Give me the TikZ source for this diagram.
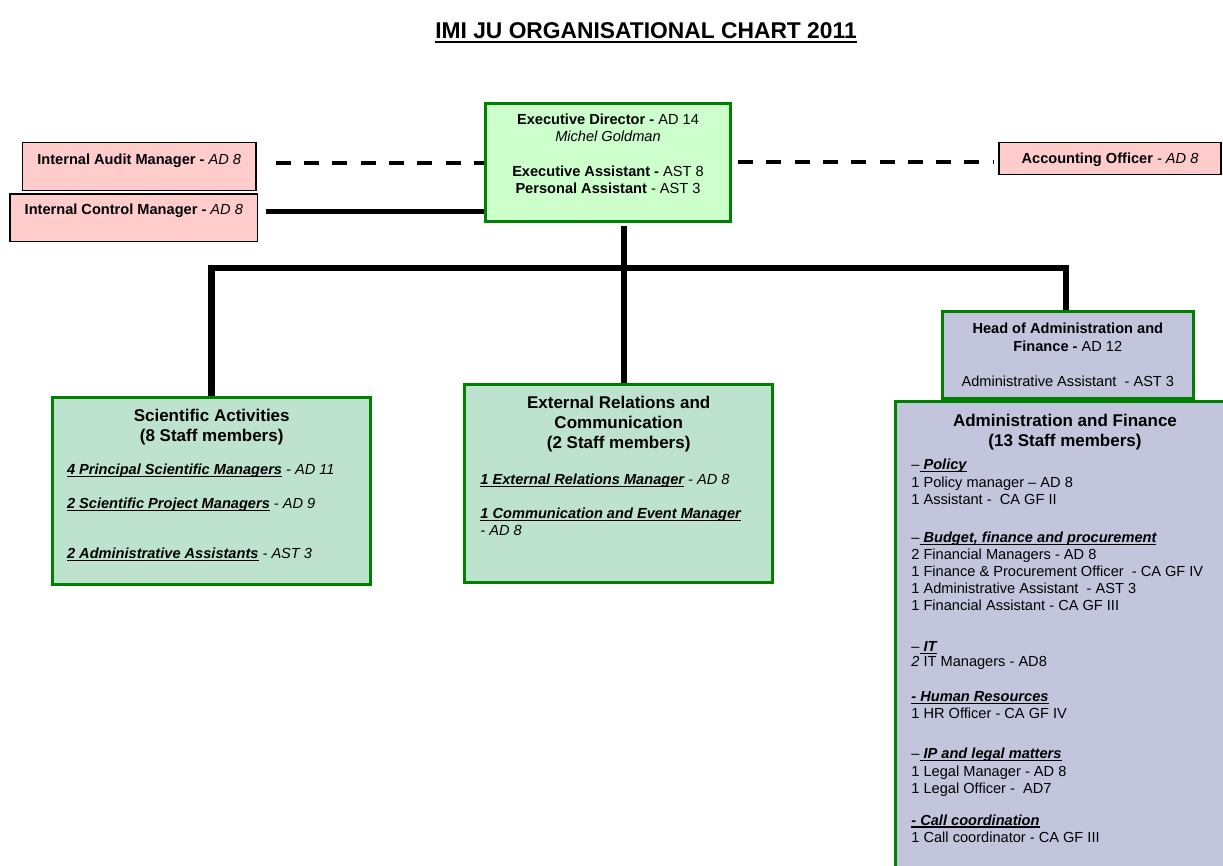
\documentclass[tikz,border=0pt]{standalone}
\usepackage{fontspec}
\setmainfont{Liberation Sans}
\usetikzlibrary{positioning}
\definecolor{auditpink}{HTML}{FFCCCC}
\definecolor{execgreen}{HTML}{CCFFCC}
\definecolor{unitmint}{HTML}{BDE3CF}
\definecolor{adminlilac}{HTML}{C3C5DD}
\definecolor{boxgreen}{HTML}{008000}
\newsavebox{\ulsave}
\newcommand{\ulrule}[3]{\sbox{\ulsave}{#1}\rlap{\rule[-#2]{\wd\ulsave}{#3}}\usebox{\ulsave}}
\newcommand{\bodyfont}{\fontsize{14.6}{17}\selectfont}
\newcommand{\headfont}{\fontsize{17}{20}\selectfont\bfseries}
\newcommand{\titlefont}{\fontsize{22.8}{26}\selectfont\bfseries}
\newcommand{\ulbi}[1]{{\bfseries\itshape\ulrule{#1}{2.1pt}{1.2pt}}}
\newcommand{\titleline}[1]{\ulrule{#1}{4.4pt}{2pt}}
\tikzset{
pinkbox/.style={draw=black, line width=1.3pt, fill=auditpink, inner sep=0pt},
greenbox/.style={draw=boxgreen, line width=3pt, inner sep=0pt},
boxtext/.style={inner sep=0pt, align=center, font=\bodyfont},
headtext/.style={inner sep=0pt, align=center, font=\headfont},
itemtext/.style={inner sep=0pt, align=left, font=\bodyfont},
dashline/.style={line width=4pt, dash pattern=on 15pt off 13.3pt},
solidline/.style={line width=5pt},
treeline/.style={line width=6.5pt}
}
\begin{document}
\begin{tikzpicture}[x=1pt,y=-1pt]
\useasboundingbox (0,0) rectangle (1223,866);
\clip (0,0) rectangle (1223,866);

\node[font=\titlefont, anchor=base, inner sep=0pt] (title) at (646,38.3) {\titleline{IMI JU ORGANISATIONAL CHART 2011}};

\node[greenbox, fill=execgreen, minimum width=245pt, minimum height=118pt] (exec) at (608,162.5) {};
\node[pinkbox, minimum width=233.7pt, minimum height=48pt] (audit) at (139.2,166.3) {};
\node[pinkbox, minimum width=247.7pt, minimum height=47.7pt] (control) at (133.8,217.8) {};
\node[pinkbox, minimum width=222pt, minimum height=32pt] (account) at (1110,158.3) {};
\node[greenbox, fill=unitmint, minimum width=318.3pt, minimum height=187.3pt] (sci) at (211.7,490.9) {};
\node[greenbox, fill=unitmint, minimum width=307.7pt, minimum height=197.7pt] (extrel) at (618.7,483.7) {};
\node[greenbox, fill=adminlilac, minimum width=251.5pt, minimum height=86pt] (head) at (1067.8,355) {};
\node[greenbox, fill=adminlilac, minimum width=338.6pt, minimum height=478.3pt] (admin) at (1065,640.9) {};

\node[boxtext, below=11.6pt of exec.north] (exectext) {\textbf{Executive Director -} AD 14\\\textit{Michel Goldman}\\[18pt]\textbf{Executive Assistant -} AST 8\\\textbf{Personal Assistant} - AST 3};
\node[boxtext, below=11.6pt of audit.north] (audittext) {\textbf{Internal Audit Manager -} \textit{AD 8}};
\node[boxtext, below=10.6pt of control.north] (controltext) {\textbf{Internal Control Manager -} \textit{AD 8}};
\node[boxtext, below=10.6pt of account.north] (accounttext) {\textbf{Accounting Officer} \textit{- AD 8}};

\node[headtext, below=13pt of sci.north] (scihead) {Scientific Activities\\(8 Staff members)};
\node[itemtext, below right=68.4pt and 15.8pt of sci.north west] (sciitems) {\ulbi{4 Principal Scientific Managers} \textit{- AD 11}\\[17pt]
\ulbi{2 Scientific Project Managers} \textit{- AD 9}\\[33pt]
\ulbi{2 Administrative Assistants} \textit{- AST 3}};

\node[headtext, below=12.2pt of extrel.north] (erhead) {External Relations and\\Communication\\(2 Staff members)};
\node[itemtext, below right=90.8pt and 16.9pt of extrel.north west] (eritems) {\ulbi{1 External Relations Manager} \textit{- AD 8}\\[17pt]
\ulbi{1 Communication and Event Manager}\\
\textit{- AD 8}};

\node[boxtext, below=11.9pt of head.north] (headtext) {\textbf{Head of Administration and}\\[1.5pt]\textbf{Finance -} AD 12\\[18pt]Administrative Assistant\ \ - AST 3};

\node[headtext, below=13.7pt of admin.north] (adminhead) {Administration and Finance\\(13 Staff members)};
\node[itemtext, below right=58.9pt and 17pt of admin.north west] (adminitems) {--\ulbi{ Policy}\\[0.5pt]
1 Policy manager -- AD 8\\[0.5pt]
1 Assistant - \ CA GF II\\[21pt]
--\ulbi{ Budget, finance and procurement}\\
2 Financial Managers - AD 8\\
1 Finance \& Procurement Officer\ \ - CA GF IV\\
1 Administrative Assistant\ \ - AST 3\\
1 Financial Assistant - CA GF III\\[24pt]
--\ulbi{ IT}\\[-2pt]
\textit{2} IT Managers - AD8\\[18pt]
\ulbi{- Human Resources}\\
1 HR Officer - CA GF IV\\[23pt]
--\ulbi{ IP and legal matters}\\[0.5pt]
1 Legal Manager - AD 8\\
1 Legal Officer - \ AD7\\[15pt]
\ulbi{- Call coordination}\\[0.5pt]
1 Call coordinator - CA GF III};

\coordinate (auditend) at ([yshift=3pt]audit.east);
\coordinate (controlend) at ([yshift=6pt]control.east);
\coordinate (accountend) at ([yshift=-4pt]account.west);
\draw[dashline, shorten <=19pt] (auditend) -- (auditend -| exec.west);
\draw[solidline, shorten <=7.3pt] (controlend) -- (controlend -| exec.west);
\draw[dashline, shorten <=6pt, shorten >=4pt] (accountend -| exec.east) -- (accountend);

\coordinate (bus) at (624,268);
\coordinate (busleft) at (211.7,268);
\coordinate (busright) at (1066,268);
\draw[treeline, shorten <=3pt] (exec.south -| bus) -- (bus |- extrel.north);
\draw[treeline] (sci.north -| busleft) -- (busleft) -- (busright) -- (head.north -| busright);
\end{tikzpicture}
\end{document}
